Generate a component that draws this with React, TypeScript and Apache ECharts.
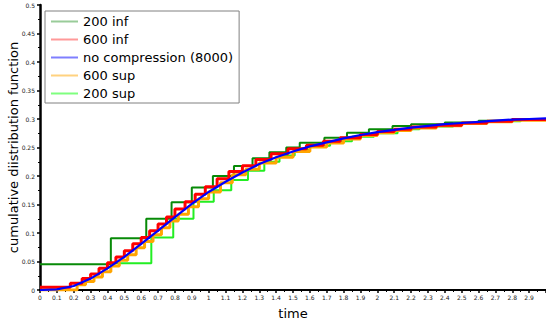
import React, { useEffect, useRef } from "react";
import * as echarts from "echarts";

// blue: no compression (8000)
const exactX = [0, 0.1, 0.2, 0.3, 0.4, 0.5, 0.6, 0.7, 0.8, 0.9, 1.0, 1.1, 1.2, 1.3, 1.4, 1.5, 1.6, 1.7, 1.8, 1.9, 2.0, 2.1, 2.2, 2.3, 2.4, 2.5, 2.6, 2.7, 2.8, 2.9, 3.0];
const exactY = [0, 0.001, 0.007, 0.02, 0.038, 0.058, 0.081, 0.104, 0.128, 0.151, 0.172, 0.19, 0.206, 0.221, 0.233, 0.243, 0.252, 0.259, 0.266, 0.272, 0.277, 0.281, 0.285, 0.288, 0.291, 0.293, 0.295, 0.297, 0.299, 0.3, 0.301];

// red: 600 inf (step levels starting at x)
const inf600X = [0, 0.18, 0.25, 0.3, 0.35, 0.4, 0.45, 0.5, 0.55, 0.6, 0.65, 0.7, 0.75, 0.8, 0.86, 0.92, 0.98, 1.05, 1.12, 1.2, 1.28, 1.37, 1.47, 1.58, 1.68, 1.78, 1.9, 2.0, 2.1, 2.2, 2.35, 2.5, 2.65, 2.8, 3.0];
const inf600Y = [0.005, 0.012, 0.02, 0.028, 0.038, 0.048, 0.058, 0.069, 0.081, 0.092, 0.104, 0.116, 0.128, 0.142, 0.155, 0.168, 0.181, 0.195, 0.208, 0.218, 0.229, 0.239, 0.248, 0.254, 0.261, 0.267, 0.273, 0.278, 0.282, 0.286, 0.289, 0.293, 0.296, 0.299, 0.301];

// orange: 600 sup
const sup600X = [0, 0.22, 0.27, 0.32, 0.37, 0.42, 0.47, 0.52, 0.57, 0.62, 0.67, 0.72, 0.77, 0.82, 0.88, 0.94, 1.0, 1.07, 1.14, 1.22, 1.3, 1.4, 1.5, 1.6, 1.7, 1.8, 1.9, 2.0, 2.1, 2.2, 2.35, 2.5, 2.65, 2.8, 3.0];
const sup600Y = [0, 0.009, 0.015, 0.023, 0.032, 0.042, 0.052, 0.062, 0.074, 0.085, 0.097, 0.109, 0.121, 0.133, 0.146, 0.16, 0.172, 0.188, 0.202, 0.212, 0.223, 0.233, 0.243, 0.251, 0.258, 0.265, 0.271, 0.276, 0.28, 0.284, 0.288, 0.292, 0.295, 0.298, 0.3];

// dark green: 200 inf
const inf200X = [0, 0.42, 0.63, 0.78, 0.9, 1.025, 1.15, 1.26, 1.36, 1.46, 1.54, 1.686, 1.82, 1.95, 2.09, 2.2, 2.4, 2.6, 2.8, 3.0];
const inf200Y = [0.045, 0.091, 0.125, 0.154, 0.18, 0.2, 0.2175, 0.231, 0.2415, 0.25, 0.2585, 0.267, 0.276, 0.282, 0.2877, 0.2906, 0.294, 0.297, 0.3, 0.3];

// light green: 200 sup
const sup200X = [0.42, 0.66, 0.79, 0.91, 1.03, 1.134, 1.233, 1.33, 1.42, 1.51, 1.6, 1.72, 1.85, 1.98, 2.12, 2.25, 2.45, 2.65, 2.85, 3.0];
const sup200Y = [0.047, 0.092, 0.125, 0.155, 0.175, 0.193, 0.209, 0.225, 0.236, 0.2456, 0.253, 0.261, 0.269, 0.275, 0.282, 0.287, 0.292, 0.296, 0.299, 0.299];

const zip = (xs: number[], ys: number[]) => xs.map((x, i) => [x, ys[i]]);

const FONT = "DejaVu Sans";

export default function App() {
  const ref = useRef<HTMLDivElement>(null);
  useEffect(() => {
    if (!ref.current) return;
    const chart = echarts.init(ref.current, null, { renderer: "svg" });
    const mk = (name: string, data: number[][], color: string, width: number, z: number, step: any) => ({
      name,
      type: "line",
      data,
      step,
      symbol: "none",
      showSymbol: false,
      z,
      lineStyle: { color, width },
      itemStyle: { color },
    });
    const leg = (name: string, color: string, opacity: number) => ({
      name,
      itemStyle: { opacity: 0 },
      lineStyle: { color, opacity, width: 2 },
    });
    chart.setOption({
      animation: false,
      backgroundColor: "#ffffff",
      textStyle: { fontFamily: FONT },
      grid: { left: 40, right: 0, top: 5, bottom: 33, containLabel: false, outerBoundsMode: "none" },
      legend: {
        orient: "vertical",
        left: 45,
        top: 11,
        padding: [4, 6, 3, 5],
        itemWidth: 27,
        itemHeight: 14,
        itemGap: 5,
        backgroundColor: "#ffffff",
        borderColor: "#808080",
        borderWidth: 1,
        borderRadius: 0,
        textStyle: { fontFamily: FONT, fontSize: 13, color: "#000" },
        data: [
          leg("200 inf", "#008000", 0.4),
          leg("600 inf", "#ff0000", 0.4),
          leg("no compression (8000)", "#0000ff", 0.5),
          leg("600 sup", "#ffa500", 0.5),
          leg("200 sup", "#00ff00", 0.5),
        ],
      },
      xAxis: {
        type: "value",
        min: 0,
        max: 3,
        interval: 0.1,
        name: "time",
        nameLocation: "middle",
        nameGap: 17,
        nameMoveOverlap: false,
        nameTextStyle: { fontFamily: FONT, fontSize: 13, color: "#000" },
        axisLine: { show: true, onZero: false, lineStyle: { color: "#000", width: 2 } },
        axisTick: { show: true, length: 3, lineStyle: { color: "#000", width: 1.5 } },
        minorTick: { show: true, splitNumber: 2, length: 2, lineStyle: { color: "#000" } },
        axisLabel: { fontSize: 6, color: "#222", margin: 4, showMaxLabel: false, fontFamily: FONT },
        splitLine: { show: false },
      },
      yAxis: {
        type: "value",
        min: 0,
        max: 0.5,
        interval: 0.05,
        name: "cumulative diistribution function",
        nameLocation: "middle",
        nameGap: 20,
        nameMoveOverlap: false,
        nameTextStyle: { fontFamily: FONT, fontSize: 13, color: "#000" },
        axisLine: { show: true, onZero: false, lineStyle: { color: "#000", width: 2.5 } },
        axisTick: { show: true, length: 3, lineStyle: { color: "#000", width: 1.5 } },
        minorTick: { show: true, splitNumber: 2, length: 2, lineStyle: { color: "#000" } },
        axisLabel: { fontSize: 6, color: "#222", margin: 5, fontFamily: FONT },
        splitLine: { show: false },
      },
      series: [
        mk("200 inf", zip(inf200X, inf200Y), "#078a07", 2, 2, "end"),
        mk("600 inf", zip(inf600X, inf600Y), "#ff0000", 3, 4, "end"),
        mk("no compression (8000)", zip(exactX, exactY), "#0000ff", 2.2, 5, false),
        mk("600 sup", zip(sup600X, sup600Y), "#ffa500", 3, 3, "end"),
        mk("200 sup", zip(sup200X, sup200Y), "#22ee22", 2, 2, "end"),
      ],
    });
    return () => chart.dispose();
  }, []);
  return <div ref={ref} style={{ position: "fixed", left: 0, top: 0, width: 546, height: 323 }} />;
}
